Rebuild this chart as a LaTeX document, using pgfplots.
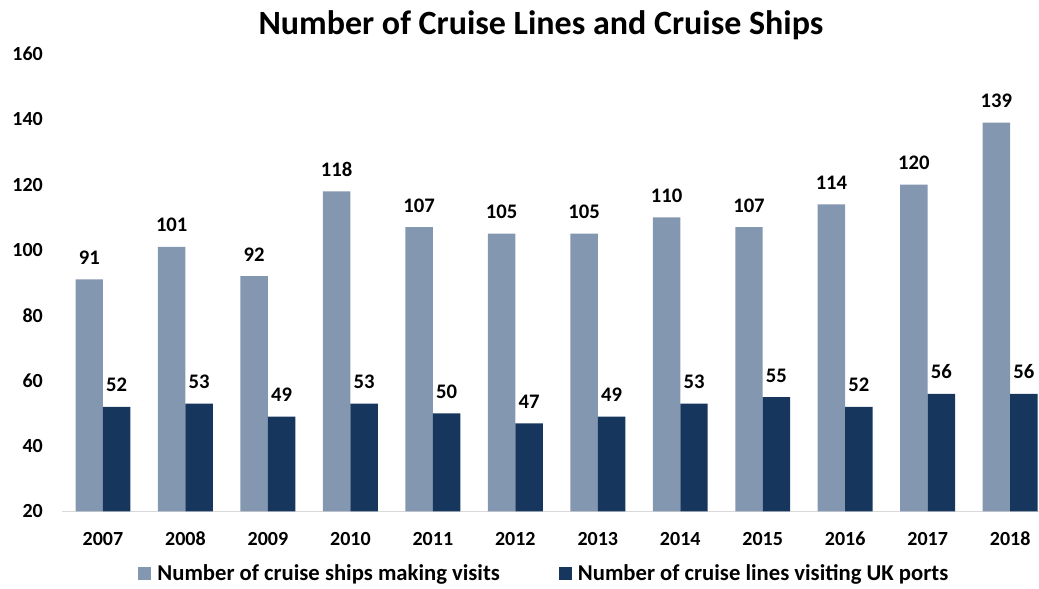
\documentclass[border=0pt]{standalone}
\usepackage{fontspec}
\setmainfont{Carlito}
\usepackage{pgfplots}
\pgfplotsset{compat=1.18}
\definecolor{shipc}{HTML}{8497B0}
\definecolor{linec}{HTML}{17365D}
\definecolor{axisgray}{HTML}{D9D9D9}

% cruise ships making visits / cruise lines visiting UK ports
\pgfplotstableread{
idx ships lines
0   91  52
1   101 53
2   92  49
3   118 53
4   107 50
5   105 47
6   105 49
7   110 53
8   107 55
9   114 52
10  120 56
11  139 56
}\cruisedata

\begin{document}
\begin{tikzpicture}
\useasboundingbox (0,0) rectangle (779.25pt,441.75pt);
\begin{axis}[
    at={(46.3125pt,58.125pt)}, anchor=south west,
    scale only axis,
    width=732.94pt, height=343.1pt,
    ybar=0pt, bar width=20.6pt,
    xmin=-0.5, xmax=11.35,
    ymin=20, ymax=160,
    ytick={20,40,...,160},
    xtick=data,
    xticklabels={2007,2008,2009,2010,2011,2012,2013,2014,2015,2016,2017,2018},
    major tick length=0pt,
    axis x line*=bottom, axis y line*=left,
    x axis line style={draw=axisgray, line width=0.8pt, -},
    y axis line style={draw=none},
    /pgf/number format/assume math mode=true,
    ticklabel style={font=\fontsize{15}{17}\selectfont\bfseries},
    yticklabel style={anchor=east, inner sep=0pt, xshift=-14pt},
    xticklabel style={anchor=base, inner sep=0pt, yshift=-25.5pt},
    nodes near coords,
    every node near coord/.append style={font=\fontsize{15.5}{17}\selectfont\bfseries, inner sep=0pt, yshift=11pt, anchor=south},
    title={Number of Cruise Lines and Cruise Ships},
    title style={at={(0.4904,1.046)}, anchor=base, yshift=-7pt, font=\fontsize{25.5}{30}\selectfont\bfseries},
    legend columns=2,
    legend cell align=left,
    legend style={at={(0.494,-0.1355)}, anchor=center, draw=none, fill=none,
        font=\fontsize{17}{19}\selectfont\bfseries,
        /tikz/every even column/.append style={column sep=42pt}},
    legend image code/.code={\fill[#1] (0pt,-4.9pt) rectangle (9.75pt,4.9pt); \path (12.5pt,0pt);},
]
\addplot[fill=shipc, draw=none] table[x=idx, y=ships] {\cruisedata};
\addlegendentry{Number of cruise ships making visits}
\addplot[fill=linec, draw=none] table[x=idx, y=lines] {\cruisedata};
\addlegendentry{Number of cruise lines visiting UK ports}
\end{axis}
\end{tikzpicture}
\end{document}
